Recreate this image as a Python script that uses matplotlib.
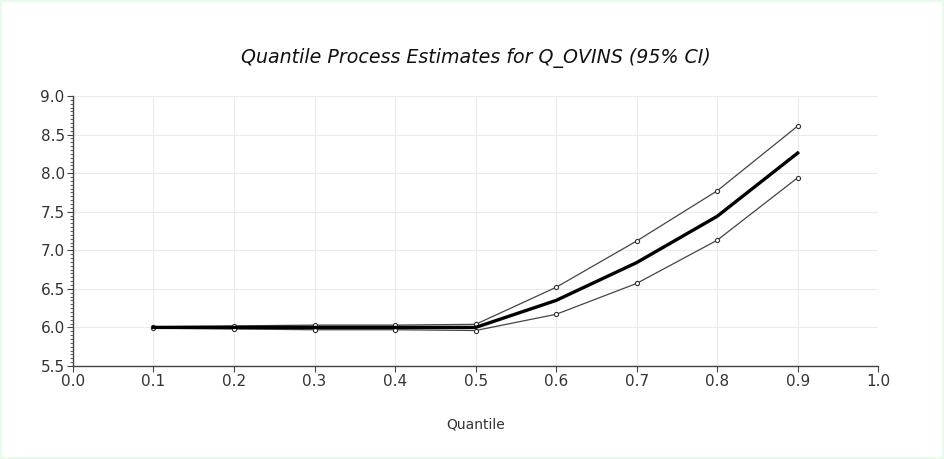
import matplotlib
matplotlib.use("Agg")
import matplotlib.pyplot as plt
from matplotlib.ticker import MultipleLocator, FormatStrFormatter
from matplotlib.patches import Rectangle

quantiles = [0.1, 0.2, 0.3, 0.4, 0.5, 0.6, 0.7, 0.8, 0.9]
estimate = [6.00, 6.00, 6.00, 6.00, 6.00, 6.35, 6.84, 7.44, 8.26]
upper = [6.01, 6.02, 6.03, 6.03, 6.04, 6.52, 7.12, 7.77, 8.61]
lower = [5.99, 5.98, 5.97, 5.97, 5.96, 6.17, 6.57, 7.13, 7.94]

plt.rcParams['font.family'] = ['DejaVu Sans']

fig = plt.figure(figsize=(9.44, 4.59), dpi=100)
fig.patches.append(Rectangle((0, 0), 1, 1, transform=fig.transFigure,
                             fill=False, edgecolor='#e6fbea', linewidth=3))
ax = fig.add_axes([0.0773, 0.2026, 0.853, 0.5884])

ax.plot(quantiles, upper, color='#444444', lw=0.9, marker='o', ms=3,
        mfc='white', mec='#333333', mew=0.8)
ax.plot(quantiles, lower, color='#444444', lw=0.9, marker='o', ms=3,
        mfc='white', mec='#333333', mew=0.8)
ax.plot(quantiles, estimate, color='black', lw=2.4)

ax.set_xlim(0, 1.0)
ax.set_ylim(5.5, 9.0)
ax.xaxis.set_major_locator(MultipleLocator(0.1))
ax.yaxis.set_major_locator(MultipleLocator(0.5))
ax.yaxis.set_minor_locator(MultipleLocator(0.05))
ax.xaxis.set_major_formatter(FormatStrFormatter('%.1f'))
ax.yaxis.set_major_formatter(FormatStrFormatter('%.1f'))

ax.grid(True, which='major', color='#ebebeb', lw=0.8)
ax.set_axisbelow(True)
for s in ['top', 'right']:
    ax.spines[s].set_visible(False)
for s in ['left', 'bottom']:
    ax.spines[s].set_color('#444444')
    ax.spines[s].set_linewidth(1.0)
ax.tick_params(axis='both', which='major', labelsize=11, length=4,
               color='#444444', labelcolor='#333333', pad=2)
ax.tick_params(axis='y', which='minor', length=2.5, width=0.8, color='#666666')

ax.set_title('Quantile Process Estimates for Q_OVINS (95% CI)',
             fontsize=13.7, style='italic', pad=24, color='#111111')
ax.set_xlabel('Quantile', fontsize=10, labelpad=20, color='#333333')

fig.savefig('out.png', dpi=100, facecolor='white')
